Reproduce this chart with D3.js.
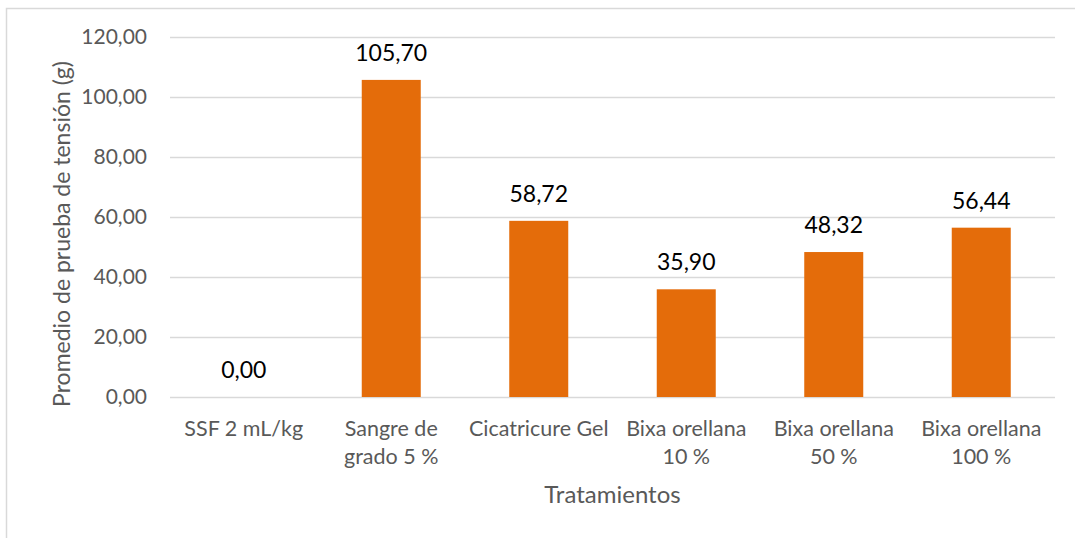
<!DOCTYPE html>
<html>
<head>
<meta charset="utf-8">
<script src="https://cdn.jsdelivr.net/npm/d3@7/dist/d3.min.js"></script>
<style>
  html, body { margin: 0; padding: 0; background: #fff; }
  svg { display: block; font-family: Lato, "Open Sans", sans-serif; }
</style>
</head>
<body>
<svg id="chart" width="1075" height="538"></svg>
<script>
const categories = [
  ["SSF 2 mL/kg"],
  ["Sangre de", "grado 5 %"],
  ["Cicatricure Gel"],
  ["Bixa orellana", "10 %"],
  ["Bixa orellana", "50 %"],
  ["Bixa orellana", "100 %"]
];
const values = [0.00, 105.70, 58.72, 35.90, 48.32, 56.44];
const yTicks = [0, 20, 40, 60, 80, 100, 120];
const yTitle = "Promedio de prueba de tensión (g)";
const xTitle = "Tratamientos";

const svg = d3.select("#chart");
const W = 1075, H = 538;
const m = { left: 170, right: 20, top: 37, bottom: 141 };

const fmt = v => d3.format(".2f")(v).replace(".", ",");

// outer border
svg.append("rect")
  .attr("x", 6.5).attr("y", 8.5)
  .attr("width", W + 20).attr("height", H + 20)
  .attr("fill", "#fff").attr("stroke", "#d9d9d9").attr("stroke-width", 1.5);

const x = d3.scaleBand()
  .domain(categories.map((d, i) => i))
  .range([m.left, W - m.right])
  .paddingInner(0.6).paddingOuter(0.3);

const y = d3.scaleLinear().domain([0, 120]).range([H - m.bottom, m.top]);

// grid
svg.append("g").selectAll("line").data(yTicks).join("line")
  .attr("x1", m.left).attr("x2", W - m.right)
  .attr("y1", d => Math.round(y(d)) + 0.5).attr("y2", d => Math.round(y(d)) + 0.5)
  .attr("stroke", "#d9d9d9").attr("stroke-width", 1.3);

// y axis labels
const yAxis = d3.axisLeft(y).tickValues(yTicks).tickFormat(fmt).tickSize(0).tickPadding(23);
const gy = svg.append("g").attr("transform", `translate(${m.left},0)`).call(yAxis);
gy.select(".domain").remove();
gy.selectAll("text").attr("font-size", 21).attr("fill", "#595959")
  .attr("font-family", "Lato, 'Open Sans', sans-serif");

// bars
svg.append("g").selectAll("rect").data(values).join("rect")
  .attr("x", (d, i) => x(i))
  .attr("width", x.bandwidth())
  .attr("y", d => y(d))
  .attr("height", d => y(0) - y(d))
  .attr("fill", "#E46C0A");

// data labels
svg.append("g").selectAll("text").data(values).join("text")
  .attr("x", (d, i) => x(i) + x.bandwidth() / 2)
  .attr("y", d => y(d) - 19)
  .attr("text-anchor", "middle")
  .attr("font-size", 23)
  .attr("fill", "#000")
  .text(d => fmt(d));

// category labels
const cat = svg.append("g").selectAll("text").data(categories).join("text")
  .attr("x", (d, i) => x(i) + x.bandwidth() / 2)
  .attr("y", 436)
  .attr("text-anchor", "middle")
  .attr("font-size", 21.5)
  .attr("fill", "#595959");
cat.selectAll("tspan").data(d => d).join("tspan")
  .attr("x", function() { return this.parentNode.getAttribute("x"); })
  .attr("dy", (d, i) => i === 0 ? 0 : 28)
  .text(d => d);

// axis titles
svg.append("text")
  .attr("x", (m.left + W - m.right) / 2)
  .attr("y", 503)
  .attr("text-anchor", "middle")
  .attr("font-size", 24)
  .attr("fill", "#595959")
  .text(xTitle);

svg.append("text")
  .attr("transform", `translate(70,234) rotate(-90)`)
  .attr("text-anchor", "middle")
  .attr("font-size", 23)
  .attr("fill", "#595959")
  .text(yTitle);
</script>
</body>
</html>
